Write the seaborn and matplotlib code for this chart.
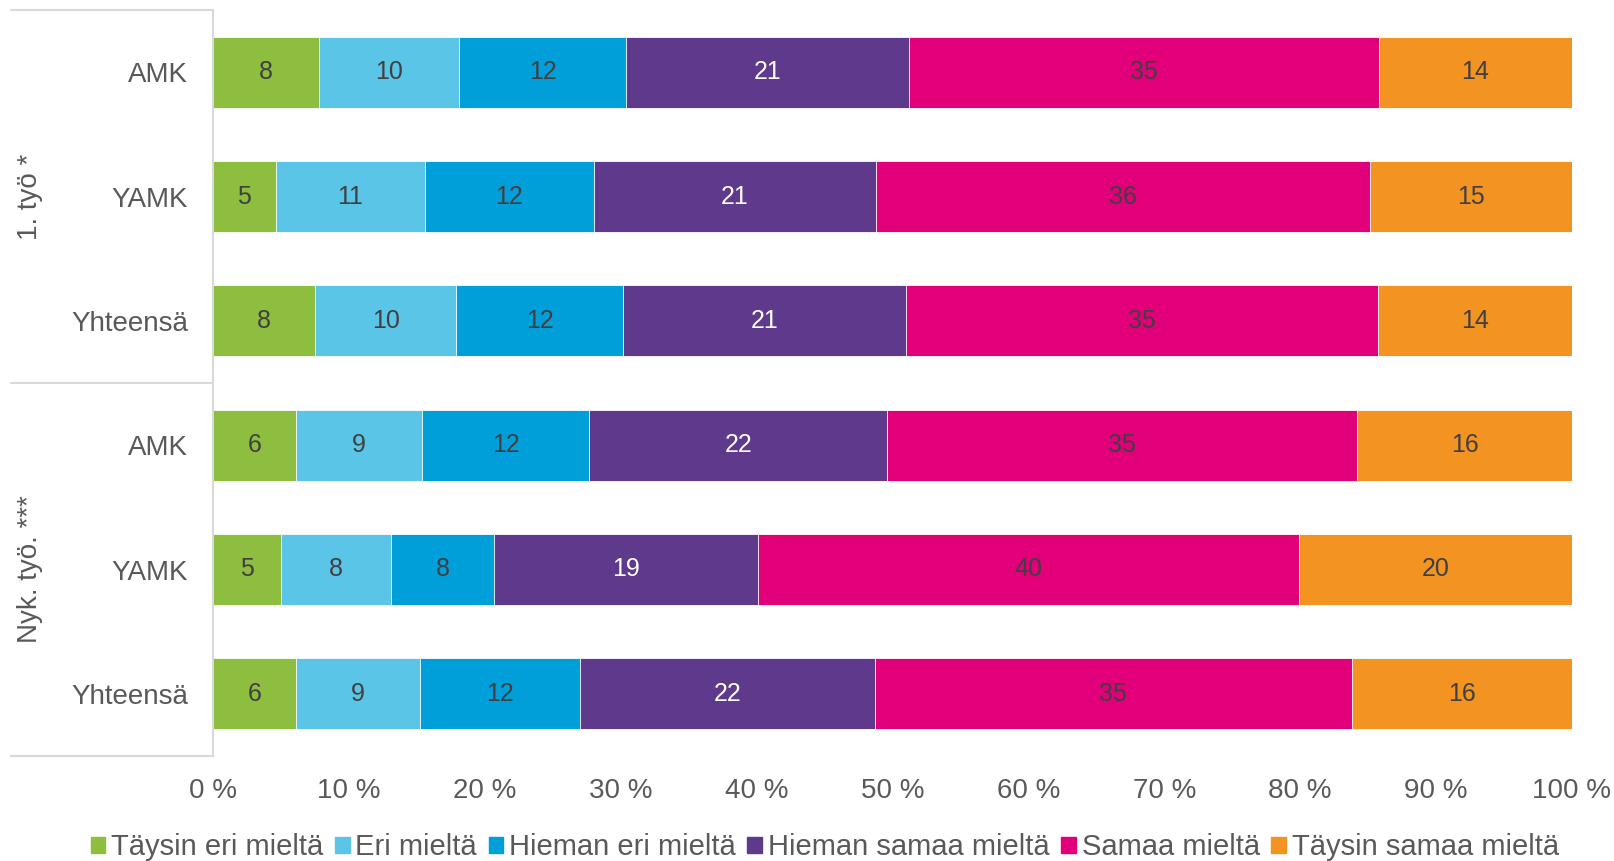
import pandas as pd
import matplotlib.pyplot as plt
import matplotlib.patches as mpatches
import matplotlib.transforms as mtransforms
import seaborn as sns

# data (percent of respondents)
groups = ['1. työ *', 'Nyk. työ. ***']
rows = ['AMK', 'YAMK', 'Yhteensä', 'AMK', 'YAMK', 'Yhteensä']
taysin_eri = [7.8, 4.6, 7.5, 6.1, 5.0, 6.1]
eri = [10.3, 11.0, 10.4, 9.3, 8.1, 9.1]
hieman_eri = [12.3, 12.4, 12.3, 12.3, 7.6, 11.8]
hieman_samaa = [20.8, 20.8, 20.8, 21.9, 19.4, 21.7]
samaa = [34.6, 36.3, 34.7, 34.6, 39.8, 35.1]
taysin_samaa = [14.2, 14.9, 14.3, 15.8, 20.1, 16.2]

series_names = ['Täysin eri mieltä', 'Eri mieltä', 'Hieman eri mieltä',
                'Hieman samaa mieltä', 'Samaa mieltä', 'Täysin samaa mieltä']
colors = ['#8DBE40', '#5BC5E8', '#009FDA', '#5F398B', '#E2007A', '#F39322']
label_colors = ['#404040', '#404040', '#404040', 'white', '#404040', '#404040']

sns.set_style('white')
plt.rcParams['font.family'] = ['Liberation Sans', 'DejaVu Sans']

df = pd.DataFrame({
    'rivi': [f'{g} {r}' for g in groups for r in rows[:3]],
    series_names[0]: taysin_eri,
    series_names[1]: eri,
    series_names[2]: hieman_eri,
    series_names[3]: hieman_samaa,
    series_names[4]: samaa,
    series_names[5]: taysin_samaa,
})
cum = df[series_names].cumsum(axis=1)
cum['rivi'] = df['rivi']

fig = plt.figure(figsize=(16.14, 8.61), dpi=100)
ax = fig.add_axes([213 / 1614, 1 - 756 / 861, (1572 - 213) / 1614, (756 - 10) / 861])

# stacked bars: draw cumulative totals from the largest down
for name, col in reversed(list(zip(series_names, colors))):
    sns.barplot(data=cum, x=name, y='rivi', orient='h', color=col, saturation=1,
                width=0.57, edgecolor='white', linewidth=0.6, ax=ax)

# value labels centred in each segment
for i in range(len(df)):
    left = 0
    for name, lc in zip(series_names, label_colors):
        v = df[name].iloc[i]
        ax.text(left + v / 2, i, f'{round(v)}', ha='center', va='center',
                color=lc, fontsize=18)
        left += v

ax.set_xlim(0, 100)
ax.set_ylim(5.5, -0.5)
ax.set_xlabel('')
ax.set_ylabel('')
ax.set_xticks(range(0, 101, 10))
ax.set_xticklabels([f'{v} %' for v in range(0, 101, 10)])
ax.set_yticks(range(len(rows)))
ax.set_yticklabels(rows)
ax.tick_params(axis='x', length=0, pad=16, labelsize=20, labelcolor='#595959')
ax.tick_params(axis='y', length=0, pad=18, labelsize=20, labelcolor='#595959')
for side in ['top', 'right', 'bottom']:
    ax.spines[side].set_visible(False)
ax.spines['left'].set_color('#d9d9d9')
ax.spines['left'].set_linewidth(1.5)

# group separators and group titles
trans = mtransforms.blended_transform_factory(ax.transAxes, ax.transData)
for y in [-0.5, 2.5, 5.5]:
    ax.plot([-0.149, 0], [y, y], color='#d9d9d9', lw=1.5, transform=trans,
            clip_on=False)
for k, g in enumerate(groups):
    ax.text(-0.135, 1 + 3 * k, g, rotation=90, ha='center', va='center',
            fontsize=20, color='#595959', transform=trans)

handles = [mpatches.Patch(color=c) for c in colors]
fig.legend(handles, series_names, ncol=6, loc='center', bbox_to_anchor=(0.511, 0.016),
           frameon=False, fontsize=21, labelcolor='#595959', handlelength=0.5,
           handleheight=0.5, handletextpad=0.2, columnspacing=0.4)

fig.savefig('out.png', dpi=100)
